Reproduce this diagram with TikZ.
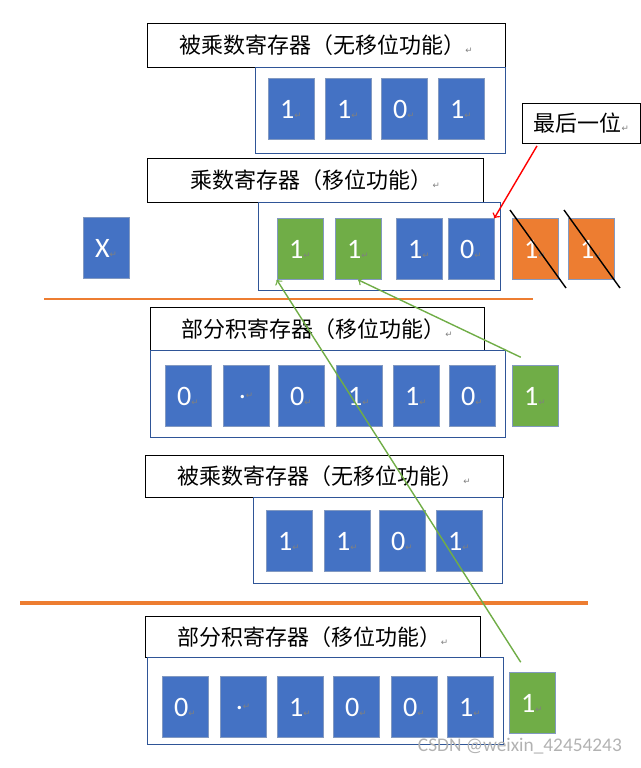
\documentclass[tikz,border=0pt]{standalone}
\usepackage{fontspec}
\setmainfont{Carlito}
\newfontfamily\cjk{Noto Sans CJK SC}
\newfontfamily\symf{DejaVu Sans}
\definecolor{cblue}{HTML}{4472C4}
\definecolor{cgreen}{HTML}{70AD47}
\definecolor{corange}{HTML}{ED7D31}
\definecolor{cframe}{HTML}{2F5597}
\newcommand{\retmark}{{\symf\tiny\color{gray}↵}}
\tikzset{
  cell/.style={minimum width=0.92cm, minimum height=1.22cm, inner sep=0pt,
    text=white, font=\fontsize{16}{16}\selectfont, draw=cframe!60, line width=0.3pt},
  title/.style={draw, line width=0.5pt, anchor=north west, inner sep=0pt,
    font=\cjk\fontsize{12.5}{13}\selectfont},
  frame/.style={draw=cframe, line width=0.5pt},
}
\begin{document}
\begin{tikzpicture}[x=0.02cm, y=-0.02cm]
\useasboundingbox (0,0) rectangle (640,768);

% first multiplicand register
\node[title, minimum width=7.16cm, minimum height=0.88cm] (t1) at (147,23) {被乘数寄存器（无移位功能）\retmark};
\draw[frame] (255,67) rectangle (505,153);
\foreach \x/\d [count=\i] in {291/1, 348/1, 404/0, 461/1}
  \node[cell, fill=cblue] (a\i) at (\x,109) {\d\retmark};

% callout
\node[title, minimum width=2.36cm, minimum height=0.8cm] (last) at (522,103) {最后一位\retmark};

% multiplier register
\node[title, minimum width=6.72cm, minimum height=0.88cm] (t2) at (147,158) {乘数寄存器（移位功能）\retmark};
\draw[frame] (258,202) rectangle (500,290);
\foreach \x/\d/\c [count=\i] in {300/1/cgreen, 358/1/cgreen, 419/1/cblue, 471/0/cblue}
  \node[cell, fill=\c] (m\i) at (\x,249) {\d\retmark};
\foreach \x [count=\i] in {535,591}
  \node[cell, fill=corange] (o\i) at (\x,249) {1\retmark};
\draw[line width=0.8pt] (510,210) -- (566,288);
\draw[line width=0.8pt] (564,210) -- (620,288);
\node[cell, fill=cblue] (mul) at (106,248) {X\retmark};
\draw[->, red, line width=0.8pt] (last.south west) ++(15,2) coordinate (c1) -- (m4.north east);

\draw[corange, line width=0.8pt] (44,299) -- (533,299);

% partial product register
\node[title, minimum width=6.68cm, minimum height=0.86cm] (t3) at (150,307) {部分积寄存器（移位功能）\retmark};
\draw[frame] (150,350) rectangle (505,437);
\foreach \x/\d [count=\i] in {188/0, 246/., 301/0, 359/1, 416/1, 472/0}
  \node[cell, fill=cblue] (p\i) at (\x,396) {\d\retmark};
\node[cell, fill=cgreen] (pg) at (535,396) {1\retmark};

% second multiplicand register
\node[title, minimum width=7.16cm, minimum height=0.84cm] (t4) at (145,455) {被乘数寄存器（无移位功能）\retmark};
\draw[frame] (253,497) rectangle (502,583);
\foreach \x/\d [count=\i] in {289/1, 347/1, 402/0, 459/1}
  \node[cell, fill=cblue] (b\i) at (\x,541) {\d\retmark};

\draw[corange, line width=2.2pt] (20,603) -- (588,603);

% partial product register after shift
\node[title, minimum width=6.7cm, minimum height=0.82cm] (t5) at (145,616) {部分积寄存器（移位功能）\retmark};
\draw[frame] (147,657) rectangle (503,744);
\foreach \x/\d [count=\i] in {185/0, 243/., 300/1, 356/0, 414/0, 470/1}
  \node[cell, fill=cblue] (q\i) at (\x,707) {\d\retmark};
\node[cell, fill=cgreen] (qg) at (532,703) {1\retmark};

% shift arrows
\draw[->, cgreen, line width=0.8pt] (pg.north west) ++(9,-8) coordinate (c2) -- (m2.south);
\draw[->, cgreen, line width=0.8pt] (qg.north west) ++(12,-10) coordinate (c3) -- (m1.south west);

\node[text=gray!60, font=\fontsize{11}{11}\selectfont, anchor=south east] (wm) at (628,760) {CSDN @weixin\_42454243};
\end{tikzpicture}
\end{document}
